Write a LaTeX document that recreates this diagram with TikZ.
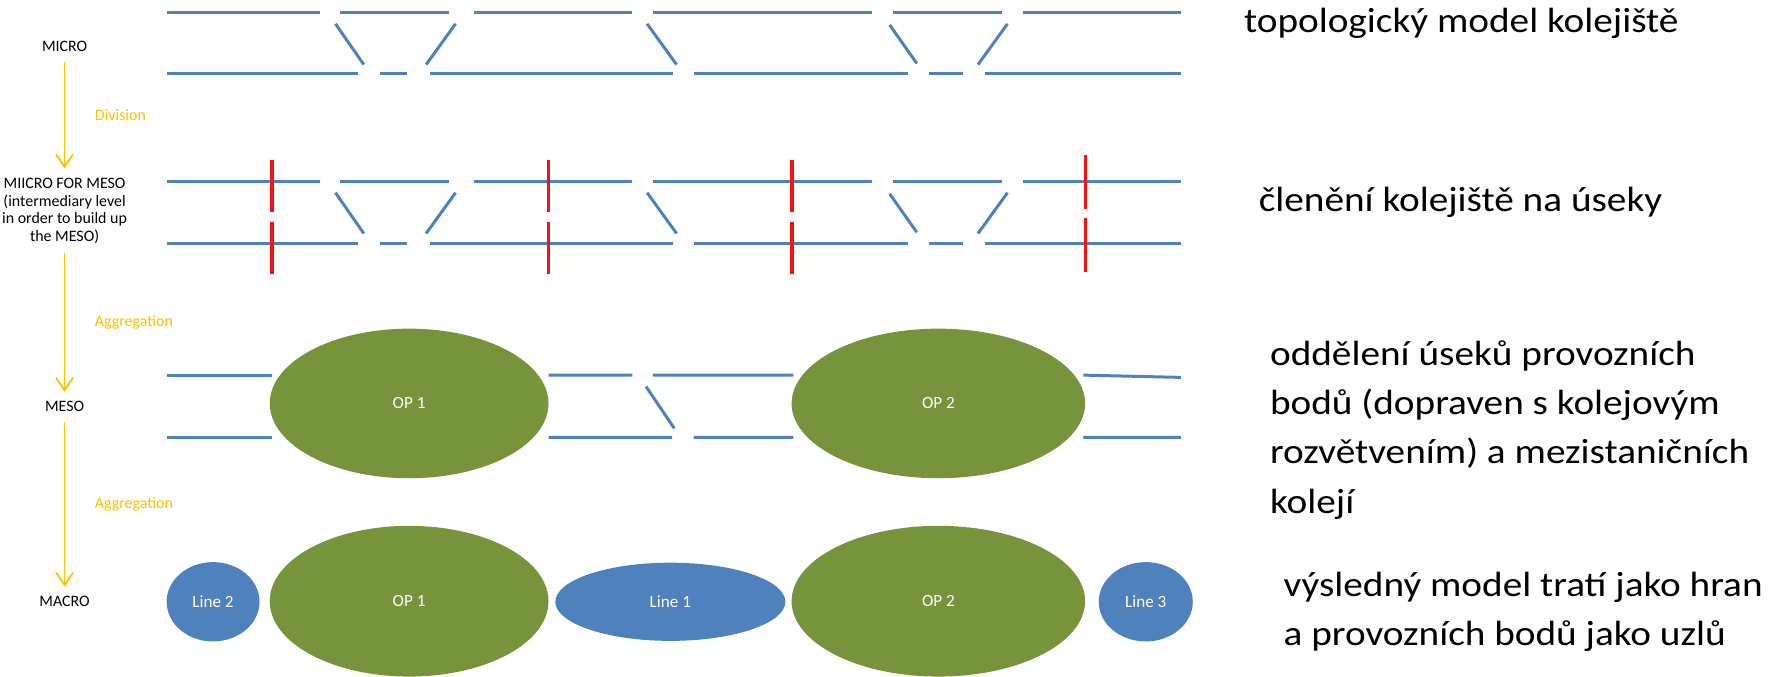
\documentclass[tikz,border=0pt]{standalone}
\usepackage{fontspec}
\setmainfont{Carlito}
\newfontfamily\descfont[FakeStretch=1.12]{Carlito}
\usetikzlibrary{arrows.meta,shapes.geometric,positioning}
\definecolor{trackblue}{RGB}{79,129,189}
\definecolor{opgreen}{RGB}{119,147,60}
\definecolor{cutred}{RGB}{240,20,20}
\definecolor{stepgold}{RGB}{255,192,0}

\begin{document}
\begin{tikzpicture}[x=0.1mm, y=-0.1mm,
    track/.style={trackblue, line width=0.75pt},
    cut/.style={cutred, line width=0.9pt},
    level/.style={font=\fontsize{4}{4.4}\selectfont, inner sep=0.8mm, align=center},
    levelarrow/.style={stepgold, line width=0.45pt, -{Straight Barb[length=1.1mm, width=1.5mm]}},
    steplabel/.style={stepgold, font=\fontsize{4}{4.4}\selectfont, inner sep=0pt, right=2.6mm},
    opnode/.style={ellipse, fill=opgreen, text=white, font=\fontsize{4.3}{5}\selectfont, inner sep=0pt},
    linenode/.style={ellipse, fill=trackblue, text=white, font=\fontsize{4.3}{5}\selectfont, inner sep=0pt},
    desc/.style={anchor=base west, inner sep=0pt, align=left, font=\descfont\fontsize{8.8}{12.4}\selectfont}]
    \useasboundingbox (0,0) rectangle (1568,597);

    \draw[track] (147,11) -- (282,11) (300,11) -- (396,11) (418,11) -- (558,11) (576,11) -- (769,11) (788,11) -- (884,11) (903,11) -- (1042,11);
    \draw[track] (147,65) -- (316,65) (335,65) -- (359,65) (379,65) -- (594,65) (612,65) -- (801,65) (820,65) -- (850,65) (869,65) -- (1042,65);
    \draw[track] (296,21) -- (321,57) (402,21) -- (376,57) (571,21) -- (597,57) (785,22) -- (809,56) (889,21) -- (863,57);

    \draw[track] (147,160) -- (282,160) (300,160) -- (396,160) (418,160) -- (558,160) (576,160) -- (769,160) (788,160) -- (884,160) (903,160) -- (1042,160);
    \draw[track] (147,215) -- (316,215) (335,215) -- (359,215) (379,215) -- (594,215) (612,215) -- (801,215) (820,215) -- (850,215) (869,215) -- (1042,215);
    \draw[track] (296,170) -- (321,206) (402,170) -- (376,206) (571,170) -- (597,206) (785,171) -- (809,205) (889,170) -- (863,206);
    \draw[cut] (240,141) -- (240,187) (240,196) -- (240,242) (484,141) -- (484,187) (484,196) -- (484,242);
    \draw[cut] (699,141) -- (699,187) (699,196) -- (699,242) (958,137) -- (958,184) (958,192) -- (958,240);

    \draw[track] (147,331) -- (240,331) (147,386) -- (240,386);
    \draw[track] (484,331) -- (558,331) (576,331) -- (700,331) (484,386) -- (593,386) (612,386) -- (700,386) (570,341) -- (595,378);
    \draw[track] (956,331) -- (1042,333) (956,386) -- (1042,386);
    \node[opnode, minimum width=24.6mm, minimum height=13.2mm] (op1meso) at (361,356) {OP 1};
    \node[opnode, minimum width=25.9mm, minimum height=13.2mm] (op2meso) at (828,356) {OP 2};

    \node[linenode, minimum width=8.2mm, minimum height=7mm] (line2) at (188,531) {Line 2};
    \node[opnode, minimum width=24.6mm, minimum height=13.3mm] (op1macro) at (361,530.5) {OP 1};
    \node[linenode, minimum width=20.3mm, minimum height=6.9mm] (line1) at (591.5,531) {Line 1};
    \node[opnode, minimum width=25.9mm, minimum height=13.3mm] (op2macro) at (828,530.5) {OP 2};
    \node[linenode, minimum width=8.3mm, minimum height=7mm] (line3) at (1011,531) {Line 3};

    \node[level] (micro) at (57,41) {MICRO};
    \node[level] (mfm) at (57,186) {MIICRO FOR MESO\\(intermediary level\\in order to build up\\the MESO)};
    \node[level] (meso) at (57,359) {MESO};
    \node[level] (macro) at (57,531) {MACRO};
    \draw[levelarrow] (micro) -- node[steplabel] {Division} (mfm);
    \draw[levelarrow] (mfm) -- node[steplabel] {Aggregation} (meso);
    \draw[levelarrow] (meso) -- node[steplabel] {Aggregation} (macro);

    \node[desc] (topo) at (1097,29) {topologický model kolejiště};
    \node[desc] (cleneni) at (1110,187) {členění kolejiště na úseky};
    \node[desc] (oddeleni) at (1120,453) {oddělení úseků provozních\\bodů (dopraven s kolejovým\\rozvětvením) a mezistaničních\\kolejí};
    \node[desc] (vysledny) at (1132,570) {výsledný model tratí jako hran\\a provozních bodů jako uzlů};
\end{tikzpicture}
\end{document}
